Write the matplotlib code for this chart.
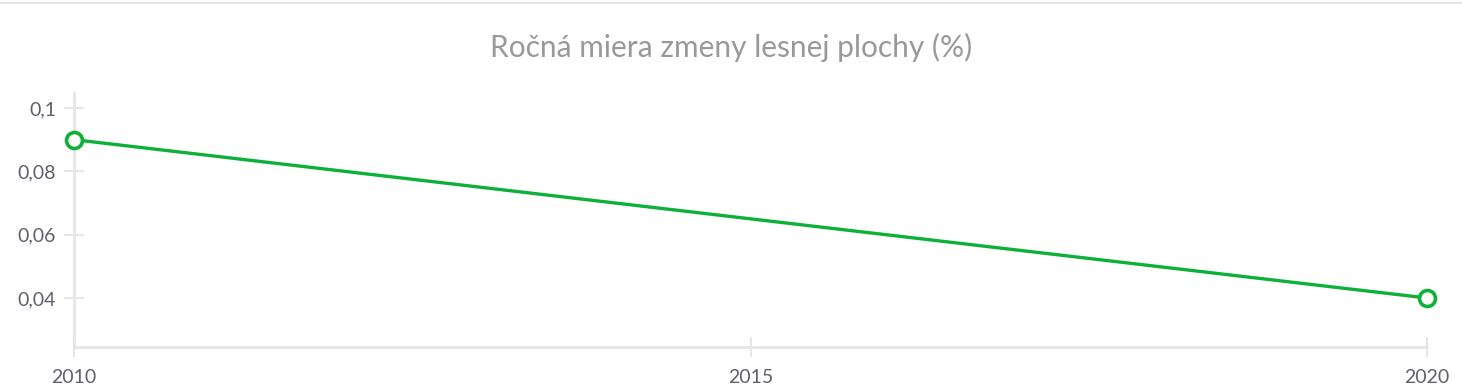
import matplotlib
matplotlib.use("Agg")
import matplotlib.pyplot as plt
from matplotlib.ticker import FuncFormatter

years = [2010, 2020]
rate = [0.09, 0.04]
title = "Ročná miera zmeny lesnej plochy (%)"
xticks = [2010, 2015, 2020]
yticks = [0.04, 0.06, 0.08, 0.1]

green = "#0db13a"
grid_c = "#e6e6e6"
txt_c = "#5f5f6e"

plt.rcParams["font.family"] = ["Lato", "DejaVu Sans"]

fig = plt.figure(figsize=(14.62, 3.88), dpi=100)
W, H = 1462, 388
# axes box in pixels: x 74..1427, y 93..347 (from top)
ax = fig.add_axes([74 / W, (H - 347) / H, (1427 - 74) / W, (347 - 93) / H])

ax.plot(years, rate, color=green, lw=2.4, marker="o", ms=11.5, mfc="white",
        mec=green, mew=2.6, clip_on=False, zorder=5)

ax.set_xlim(2010, 2020)
# 0.1 at y=108, 0.04 at y=298 -> per pixel
ppx = 0.06 / (298 - 108)
ax.set_ylim(0.04 - (347 - 298) * ppx, 0.1 + (108 - 93) * ppx)

ax.set_xticks(xticks)
ax.set_yticks(yticks)
ax.xaxis.set_major_formatter(FuncFormatter(lambda v, p: f"{int(v)}"))
ax.yaxis.set_major_formatter(FuncFormatter(lambda v, p: f"{v:g}".replace(".", ",")))

for s in ["top", "right"]:
    ax.spines[s].set_visible(False)
for s in ["left", "bottom"]:
    ax.spines[s].set_color(grid_c)
    ax.spines[s].set_linewidth(2)

ax.tick_params(axis="both", direction="inout", length=14, width=1.5, color=grid_c,
               labelcolor=txt_c, labelsize=14)
ax.tick_params(axis="y", pad=6)
ax.tick_params(axis="x", pad=9)

fig.text(0.5, (H - 47) / H, title, ha="center", va="center", fontsize=21.5, color="#999999")
fig.add_artist(plt.Line2D([0, 1], [(H - 3) / H] * 2, color=grid_c, lw=1.5,
                          transform=fig.transFigure))

fig.savefig("out.png", dpi=100, facecolor="white")
